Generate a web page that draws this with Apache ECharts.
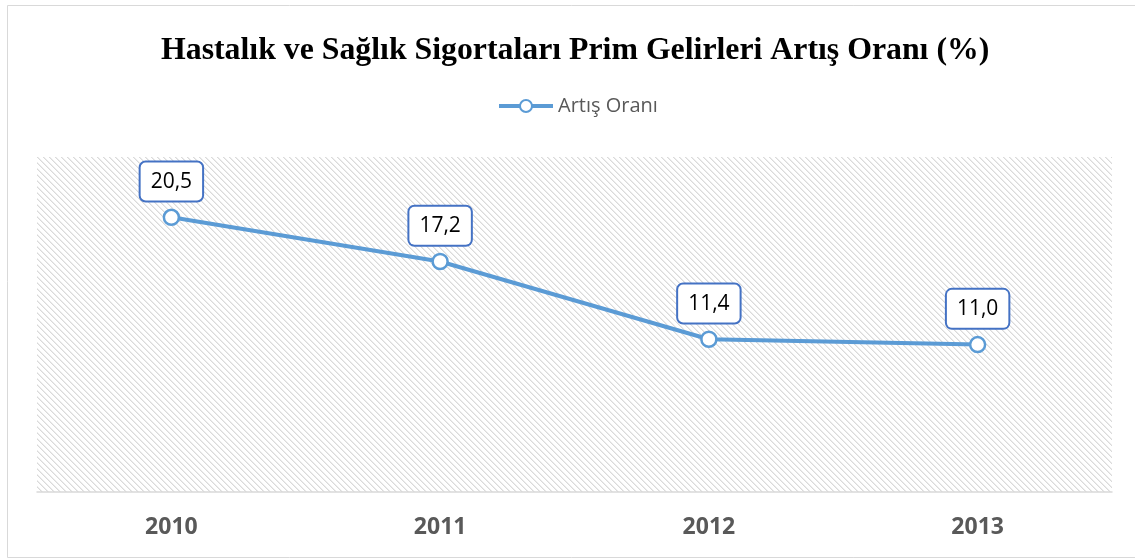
<!DOCTYPE html>
<html><head><meta charset="utf-8">
<script src="https://cdn.jsdelivr.net/npm/echarts@6/dist/echarts.min.js"></script>
<style>html,body{margin:0;padding:0;background:#fff}#c{width:1135px;height:559px}</style>
</head><body><div id="c"></div>
<script>
const titleText = 'Hastalık ve Sağlık Sigortaları Prim Gelirleri Artış Oranı (%)';
const seriesName = 'Artış Oranı';
const years = ['2010', '2011', '2012', '2013'];
const values = [20.5, 17.2, 11.4, 11.0];

// hatch pattern
const pc = document.createElement('canvas');
const P = 6;
pc.width = P; pc.height = P;
const pctx = pc.getContext('2d');
const img = pctx.createImageData(P, P);
for (let y = 0; y < P; y++) for (let x = 0; x < P; x++) {
  const d = ((x - y) % P + P) % P;
  let v = 255;
  if (d === 0) v = 218; else if (d === 1) v = 236;
  const i = (y * P + x) * 4;
  img.data[i] = v; img.data[i+1] = v; img.data[i+2] = v; img.data[i+3] = 255;
}
pctx.putImageData(img, 0, 0);

const chart = echarts.init(document.getElementById('c'), null, {renderer: 'canvas'});
chart.setOption({
  animation: false,
  backgroundColor: '#fff',
  graphic: [{
    type: 'rect', left: 7, top: 5, z: -10,
    shape: {width: 1140, height: 552},
    style: {fill: '#fff', stroke: '#d9d9d9', lineWidth: 1}
  }],
  title: {
    text: titleText, left: 156, top: 30,
    padding: 5,
    textStyle: {fontFamily: 'Liberation Serif', fontWeight: 'bold', fontSize: 31.8, color: '#000'}
  },
  legend: {
    top: 91, left: 492,
    itemWidth: 54, itemHeight: 15, itemGap: 10,
    lineStyle: {width: 4},
    textStyle: {fontFamily: 'Open Sans', fontSize: 20, color: '#595959'},
    data: [seriesName]
  },
  grid: {
    left: 37, right: 23, top: 157, bottom: 67,
    show: true, borderWidth: 0,
    backgroundColor: {image: pc, repeat: 'repeat'}
  },
  xAxis: {
    type: 'category', data: years, boundaryGap: true,
    axisLine: {lineStyle: {color: '#d9d9d9', width: 1.5}},
    axisTick: {show: false},
    axisLabel: {fontFamily: 'Open Sans', fontWeight: 'bold', fontSize: 23, color: '#595959', margin: 24}
  },
  yAxis: {
    type: 'value', min: 0, max: 25, interval: 5, show: false,
    splitLine: {show: false}
  },
  series: [{
    name: seriesName, type: 'line', data: values,
    symbol: 'circle', symbolSize: 15,
    itemStyle: {color: '#fff', borderColor: '#5B9BD5', borderWidth: 2.5},
    lineStyle: {color: '#5B9BD5', width: 4},
    label: {
      show: true, position: 'top', distance: 8,
      formatter: p => p.value.toFixed(1).replace('.', ','),
      fontFamily: 'Open Sans', fontSize: 21, color: '#000',
      backgroundColor: '#fff', borderColor: '#4472C4', borderWidth: 2, borderRadius: 5,
      padding: [9, 10, 8, 10]
    }
  }]
});
</script></body></html>
